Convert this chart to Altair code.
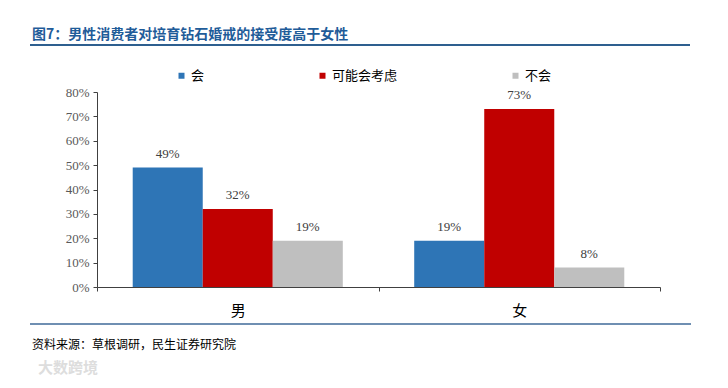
import altair as alt
import pandas as pd

categories = ["男", "女"]
series = ["会", "可能会考虑", "不会"]
values_male = [0.49, 0.32, 0.19]
values_female = [0.19, 0.73, 0.08]
colors = ["#2E75B6", "#C00000", "#BFBFBF"]
y_ticks = [0, 0.1, 0.2, 0.3, 0.4, 0.5, 0.6, 0.7, 0.8]

title_text = "图7：男性消费者对培育钻石婚戒的接受度高于女性"
source_text = "资料来源：草根调研，民生证券研究院"
watermark_text = "大数跨境"

rows = []
for cat, vals in zip(categories, [values_male, values_female]):
    for s, v in zip(series, vals):
        rows.append({"cat": cat, "series": s, "value": v})
df = pd.DataFrame(rows)

CJK = "Noto Sans CJK SC"
SERIF = "Liberation Serif"

x_enc = alt.X("cat:N", sort=categories,
              scale=alt.Scale(paddingInner=0, paddingOuter=0),
              axis=alt.Axis(title=None, labelAngle=0, labelFont=CJK, labelFontSize=15,
                            labelColor="#000000", labelPadding=12, tickBand="extent",
                            tickSize=4, tickColor="#404040", domainColor="#404040",
                            labelFontWeight="normal"))
xo_enc = alt.XOffset("series:N", sort=series, scale=alt.Scale(paddingOuter=0.51, paddingInner=0))
y_enc = alt.Y("value:Q", scale=alt.Scale(domain=[0, 0.8], nice=False),
              axis=alt.Axis(title=None, values=y_ticks, format=".0%", grid=False,
                            labelFont=SERIF, labelFontSize=13, labelColor="#595959",
                            tickSize=4, tickColor="#404040", domainColor="#404040",
                            labelPadding=4, labelOverlap=False, labelFlush=False))

bars = alt.Chart(df).mark_bar().encode(
    x=x_enc, xOffset=xo_enc, y=y_enc,
    color=alt.Color("series:N", sort=series,
                    scale=alt.Scale(domain=series, range=colors),
                    legend=alt.Legend(title=None, orient="none", legendX=78, legendY=-23,
                                      direction="horizontal", columns=3, columnPadding=111,
                                      gridAlign="each", symbolType="square", symbolSize=36,
                                      symbolStrokeWidth=0, labelFont=CJK, labelFontSize=13,
                                      labelColor="#000000", labelOffset=3, padding=0)),
)

labels = alt.Chart(df).mark_text(baseline="bottom", dy=-7, font=SERIF, fontSize=13,
                                 color="#404040").encode(
    x=x_enc, xOffset=xo_enc, y=y_enc,
    text=alt.Text("value:Q", format=".0%"))

one = lambda t: pd.DataFrame({"t": [t]})

title = alt.Chart(one(title_text)).mark_text(
    align="left", baseline="middle", font=CJK, fontSize=14, fontWeight="bold",
    color="#1F5C99").encode(x=alt.value(-65), y=alt.value(-57), text="t:N")
top_rule = alt.Chart(one("a")).mark_rule(color="#2E5F8F", strokeWidth=2).encode(
    x=alt.value(-67), x2=alt.value(593), y=alt.value(-47))
bottom_rule = alt.Chart(one("b")).mark_rule(color="#3F6A98", strokeWidth=1.5).encode(
    x=alt.value(-67), x2=alt.value(594), y=alt.value(232))
source = alt.Chart(one(source_text)).mark_text(
    align="left", baseline="middle", font=CJK, fontSize=12, color="#000000").encode(
    x=alt.value(-65), y=alt.value(253), text="t:N")
watermark = alt.Chart(one(watermark_text)).mark_text(
    align="left", baseline="middle", font=CJK, fontSize=15, fontWeight="bold",
    color="#DDDDDD").encode(x=alt.value(-59), y=alt.value(276), text="t:N")

chart = alt.layer(bars, labels, title, top_rule, bottom_rule, source, watermark).properties(
    width=563, height=195,
    background="#FFFFFF",
    autosize=alt.AutoSizeParams(type="none"),
    padding={"left": 89, "top": 84, "right": 60, "bottom": 101},
).configure_view(strokeWidth=0, stroke="transparent")

chart.save("out.html", embed_options={"renderer": "svg", "actions": False})
